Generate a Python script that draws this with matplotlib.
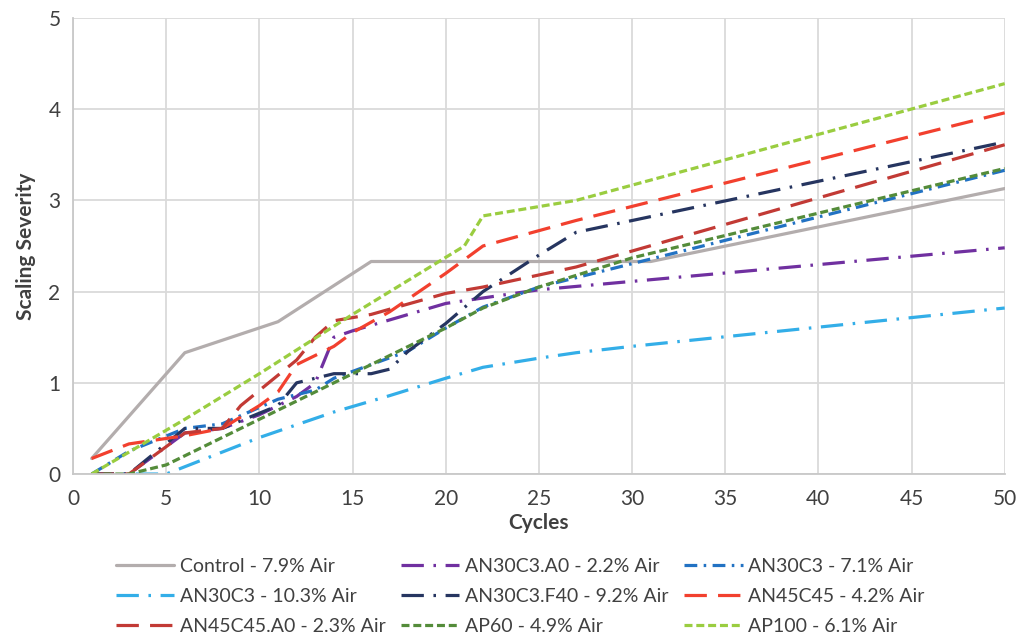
import matplotlib
matplotlib.use("Agg")
import matplotlib.pyplot as plt
from matplotlib import font_manager

# font: narrow humanist sans if available
avail = {f.name for f in font_manager.fontManager.ttflist}
fam = "Lato" if "Lato" in avail else "DejaVu Sans"
plt.rcParams["font.family"] = [fam, "DejaVu Sans"]

# data
ctrl_x = [1, 6, 11, 16, 31, 50]
ctrl_y = [0.17, 1.33, 1.67, 2.33, 2.33, 3.13]

a0_x = [1, 3, 6, 8, 10, 12, 13, 14, 15, 20, 22, 25, 50]
a0_y = [0, 0, 0.45, 0.5, 0.65, 0.85, 1.0, 1.5, 1.57, 1.87, 1.93, 2.02, 2.48]

c71_x = [1, 3, 6, 8, 11, 13, 14, 16, 18, 20, 22, 25, 50]
c71_y = [0, 0.25, 0.5, 0.55, 0.82, 0.92, 1.05, 1.2, 1.35, 1.6, 1.83, 2.05, 3.33]

c103_x = [1, 5, 6, 10, 14, 17, 20, 22, 25, 27, 30, 50]
c103_y = [0, 0, 0.08, 0.4, 0.68, 0.86, 1.05, 1.17, 1.27, 1.33, 1.4, 1.82]

f40_x = [1, 3, 6, 8, 11, 12, 14, 16, 17, 18, 20, 22, 25, 27, 50]
f40_y = [0, 0, 0.5, 0.5, 0.75, 1.0, 1.1, 1.1, 1.15, 1.35, 1.65, 2.0, 2.4, 2.65, 3.64]

c45_x = [1, 3, 6, 8, 10, 11, 12, 14, 15, 17, 20, 22, 27, 50]
c45_y = [0.17, 0.33, 0.42, 0.5, 0.75, 0.9, 1.2, 1.4, 1.55, 1.78, 2.2, 2.5, 2.78, 3.96]

c45a_x = [1, 3, 6, 8, 9, 12, 13, 14, 16, 20, 22, 27, 50]
c45a_y = [0, 0, 0.45, 0.5, 0.75, 1.25, 1.5, 1.68, 1.75, 1.98, 2.05, 2.27, 3.61]

ap60_x = [1, 3, 5, 10, 15, 20, 22, 25, 30, 50]
ap60_y = [0, 0, 0.1, 0.6, 1.1, 1.6, 1.82, 2.05, 2.37, 3.35]

ap100_x = [1, 6, 10, 15, 21, 22, 27, 50]
ap100_y = [0, 0.6, 1.1, 1.75, 2.5, 2.83, 3.0, 4.28]

labels = ["Control - 7.9% Air", "AN30C3.A0 - 2.2% Air", "AN30C3 - 7.1% Air",
          "AN30C3 - 10.3% Air", "AN30C3.F40 - 9.2% Air", "AN45C45 - 4.2% Air",
          "AN45C45.A0 - 2.3% Air", "AP60 - 4.9% Air", "AP100 - 6.1% Air"]

fig = plt.figure(figsize=(10.2, 6.35), dpi=100)
ax = fig.add_axes([0.0716, 0.2535, 0.9134, 0.7182])

lw = 2.3
ldd = (7, 3, 0.8, 3)   # long dash dot
dd = (4, 2, 0.8, 2)    # dash dot
ld = (7, 3.5)          # long dash
sd = (2.5, 1.2)        # short dash

lines = []
lines += ax.plot(ctrl_x, ctrl_y, color="#B3ADAD", lw=lw, solid_capstyle="round")
lines += ax.plot(a0_x, a0_y, color="#7030A0", lw=lw, dashes=ldd)
lines += ax.plot(c71_x, c71_y, color="#2272C3", lw=lw, dashes=dd)
lines += ax.plot(c103_x, c103_y, color="#33AEE8", lw=lw, dashes=ldd)
lines += ax.plot(f40_x, f40_y, color="#263560", lw=lw, dashes=ldd)
lines += ax.plot(c45_x, c45_y, color="#F2402E", lw=lw, dashes=ld)
lines += ax.plot(c45a_x, c45a_y, color="#C23A35", lw=lw, dashes=ld)
lines += ax.plot(ap60_x, ap60_y, color="#548C3A", lw=lw, dashes=sd)
lines += ax.plot(ap100_x, ap100_y, color="#9ACD40", lw=lw, dashes=sd)

ax.set_xlim(0, 50)
ax.set_ylim(0, 5)
ax.set_xticks(range(0, 51, 5))
ax.set_yticks(range(0, 6))
ax.grid(True, color="#DADADA", lw=1.3)
ax.set_axisbelow(True)
for s in ["top", "right"]:
    ax.spines[s].set_visible(False)
for s in ["left", "bottom"]:
    ax.spines[s].set_color("#C8C8C8")
    ax.spines[s].set_linewidth(1.3)
ax.tick_params(length=0, labelsize=15, colors="#404040")
ax.tick_params(axis="x", pad=11)
ax.tick_params(axis="y", pad=9)
ax.set_xlabel("Cycles", fontsize=15, fontweight="bold", color="#404040", labelpad=3)
ax.set_ylabel("Scaling Severity", fontsize=15, fontweight="bold", color="#404040", labelpad=9)

# excel fills the legend row by row, matplotlib column by column
order = [0, 3, 6, 1, 4, 7, 2, 5, 8]
fig.legend([lines[i] for i in order], [labels[i] for i in order],
           ncol=3, loc="lower center", bbox_to_anchor=(0.51, -0.028),
           frameon=False, fontsize=14, handlelength=3.0, columnspacing=0.8,
           handletextpad=0.3, labelspacing=0.68, labelcolor="#404040")

fig.savefig("out.png", dpi=100)
